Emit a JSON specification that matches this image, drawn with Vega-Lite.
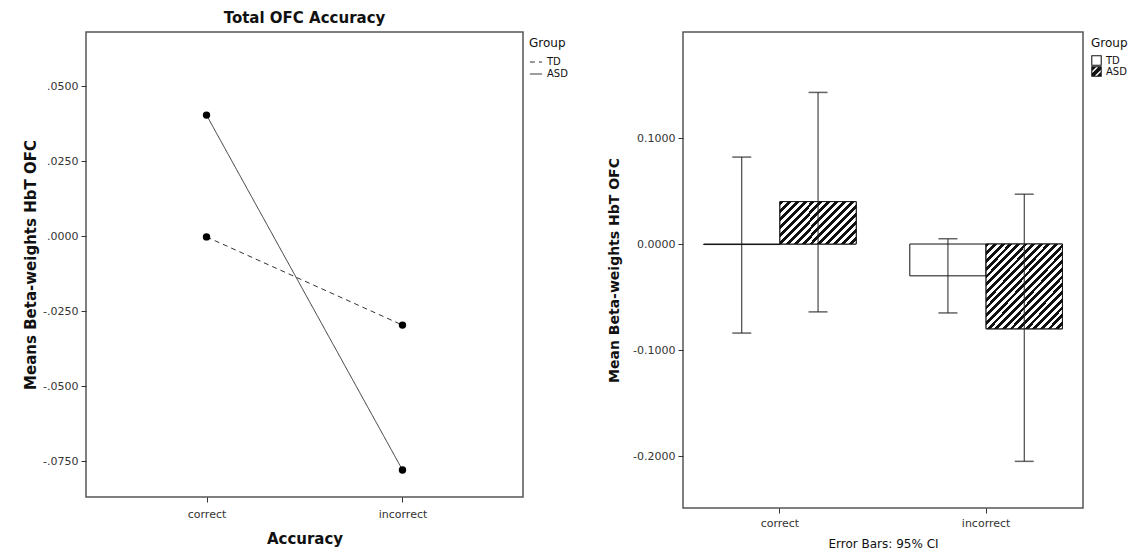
{
  "$schema": "https://vega.github.io/schema/vega-lite/v6.json",
  "autosize": {"type": "pad"},
  "padding": {"left": 22, "top": 10, "right": 0, "bottom": 0},
  "background": "white",
  "spacing": 31,
  "resolve": {"legend": {"strokeDash": "independent", "shape": "independent"}},
  "config": {
    "font": "DejaVu Sans",
    "view": {"stroke": "#555", "strokeWidth": 1.5},
    "axis": {"domain": false, "grid": false, "tickColor": "#333", "tickSize": 5, "labelFontSize": 11, "labelColor": "#333", "titleColor": "#111", "labelPadding": 3},
    "legend": {"titleFontSize": 12, "titleFontWeight": "normal", "titleColor": "#111", "labelFontSize": 10, "labelColor": "#111", "rowPadding": 0, "titlePadding": 5, "padding": 6}
  },
  "hconcat": [
    {
      "title": {"text": "Total OFC Accuracy", "fontSize": 15, "fontWeight": "bold", "offset": 6, "color": "#111"},
      "width": 437,
      "height": 465,
      "data": {"values": [
        {"Accuracy": "correct", "Group": "TD", "mean": -0.0003},
        {"Accuracy": "incorrect", "Group": "TD", "mean": -0.0297},
        {"Accuracy": "correct", "Group": "ASD", "mean": 0.0403},
        {"Accuracy": "incorrect", "Group": "ASD", "mean": -0.078}
      ]},
      "encoding": {
        "x": {"field": "Accuracy", "type": "ordinal", "scale": {"type": "point", "padding": 0.615, "domain": ["correct", "incorrect"]},
              "axis": {"title": "Accuracy", "labelAngle": 0, "titleFontSize": 15, "titleFontWeight": "bold", "labelPadding": 6, "titlePadding": 12}},
        "y": {"field": "mean", "type": "quantitative", "scale": {"domain": [-0.087, 0.068], "nice": false, "zero": false},
              "axis": {"title": "Means Beta-weights HbT OFC", "values": [-0.075, -0.05, -0.025, 0, 0.025, 0.05],
                       "labelExpr": "replace(replace(format(datum.value, '.4f'), '0.', '.'), '\u2212', '-')",
                       "titleFontSize": 15, "titleFontWeight": "bold", "titlePadding": 4}}
      },
      "layer": [
        {"mark": {"type": "line", "color": "#333", "strokeWidth": 1},
         "encoding": {"strokeDash": {"field": "Group", "type": "nominal", "scale": {"domain": ["TD", "ASD"], "range": [[5, 4], [1, 0]]},
                                     "legend": {"title": "Group", "symbolType": "stroke", "symbolSize": 150, "offset": 0, "symbolStrokeColor": "#333", "symbolStrokeWidth": 1}}}},
        {"mark": {"type": "point", "filled": true, "color": "black", "size": 55, "opacity": 1},
         "encoding": {"detail": {"field": "Group", "type": "nominal"}}}
      ]
    },
    {
      "width": 400,
      "height": 476,
      "data": {"values": [
        {"Accuracy": "correct", "Group": "TD", "mean": -0.0005, "lo": -0.084, "hi": 0.082},
        {"Accuracy": "correct", "Group": "ASD", "mean": 0.040, "lo": -0.064, "hi": 0.143},
        {"Accuracy": "incorrect", "Group": "TD", "mean": -0.030, "lo": -0.065, "hi": 0.005},
        {"Accuracy": "incorrect", "Group": "ASD", "mean": -0.080, "lo": -0.205, "hi": 0.047}
      ]},
      "encoding": {
        "x": {"field": "Accuracy", "type": "nominal", "scale": {"domain": ["correct", "incorrect"], "paddingInner": 0.26, "paddingOuter": 0.1},
              "axis": {"title": "Error Bars: 95% CI", "labelAngle": 0, "titleFontSize": 12, "titleFontWeight": "normal", "labelPadding": 4, "titlePadding": 10}},
        "xOffset": {"field": "Group", "type": "nominal", "scale": {"domain": ["TD", "ASD"], "paddingInner": 0, "paddingOuter": 0}},
        "y": {"field": "mean", "type": "quantitative", "scale": {"domain": [-0.249, 0.2], "nice": false, "zero": false},
              "axis": {"title": "Mean Beta-weights HbT OFC", "values": [-0.2, -0.1, 0, 0.1],
                       "labelExpr": "replace(format(datum.value, '.4f'), '\u2212', '-')",
                       "titleFontSize": 14, "titleFontWeight": "bold", "titlePadding": 11}}
      },
      "layer": [
        {"mark": {"type": "bar", "stroke": "#111", "strokeWidth": 1, "fill": "#ffffff"},
         "encoding": {"y2": {"datum": 0}}},
        {"transform": [{"filter": "datum.Group === 'ASD' && datum.Accuracy === 'correct'"}],
         "mark": {"type": "bar", "stroke": "#111", "strokeWidth": 1, "fill": {"gradient": "linear", "x1": 0, "y1": 0, "x2": 1.191, "y2": 0.649, "stops": [
                        {"offset": 0, "color": "#111"}, {"offset": 0.0333, "color": "#111"}, {"offset": 0.0333, "color": "#fff"}, {"offset": 0.0667, "color": "#fff"},
                        {"offset": 0.0667, "color": "#111"}, {"offset": 0.1, "color": "#111"}, {"offset": 0.1, "color": "#fff"}, {"offset": 0.1333, "color": "#fff"},
                        {"offset": 0.1333, "color": "#111"}, {"offset": 0.1667, "color": "#111"}, {"offset": 0.1667, "color": "#fff"}, {"offset": 0.2, "color": "#fff"},
                        {"offset": 0.2, "color": "#111"}, {"offset": 0.2333, "color": "#111"}, {"offset": 0.2333, "color": "#fff"}, {"offset": 0.2667, "color": "#fff"},
                        {"offset": 0.2667, "color": "#111"}, {"offset": 0.3, "color": "#111"}, {"offset": 0.3, "color": "#fff"}, {"offset": 0.3333, "color": "#fff"},
                        {"offset": 0.3333, "color": "#111"}, {"offset": 0.3667, "color": "#111"}, {"offset": 0.3667, "color": "#fff"}, {"offset": 0.4, "color": "#fff"},
                        {"offset": 0.4, "color": "#111"}, {"offset": 0.4333, "color": "#111"}, {"offset": 0.4333, "color": "#fff"}, {"offset": 0.4667, "color": "#fff"},
                        {"offset": 0.4667, "color": "#111"}, {"offset": 0.5, "color": "#111"}, {"offset": 0.5, "color": "#fff"}, {"offset": 0.5333, "color": "#fff"},
                        {"offset": 0.5333, "color": "#111"}, {"offset": 0.5667, "color": "#111"}, {"offset": 0.5667, "color": "#fff"}, {"offset": 0.6, "color": "#fff"},
                        {"offset": 0.6, "color": "#111"}, {"offset": 0.6333, "color": "#111"}, {"offset": 0.6333, "color": "#fff"}, {"offset": 0.6667, "color": "#fff"},
                        {"offset": 0.6667, "color": "#111"}, {"offset": 0.7, "color": "#111"}, {"offset": 0.7, "color": "#fff"}, {"offset": 0.7333, "color": "#fff"},
                        {"offset": 0.7333, "color": "#111"}, {"offset": 0.7667, "color": "#111"}, {"offset": 0.7667, "color": "#fff"}, {"offset": 0.8, "color": "#fff"},
                        {"offset": 0.8, "color": "#111"}, {"offset": 0.8333, "color": "#111"}, {"offset": 0.8333, "color": "#fff"}, {"offset": 0.8667, "color": "#fff"},
                        {"offset": 0.8667, "color": "#111"}, {"offset": 0.9, "color": "#111"}, {"offset": 0.9, "color": "#fff"}, {"offset": 0.9333, "color": "#fff"},
                        {"offset": 0.9333, "color": "#111"}, {"offset": 0.9667, "color": "#111"}, {"offset": 0.9667, "color": "#fff"}, {"offset": 1, "color": "#fff"}
                      ]}},
         "encoding": {"y2": {"datum": 0}}},
        {"transform": [{"filter": "datum.Group === 'ASD' && datum.Accuracy === 'incorrect'"}],
         "mark": {"type": "bar", "stroke": "#111", "strokeWidth": 1, "fill": {"gradient": "linear", "x1": 0, "y1": 0, "x2": 0.955, "y2": 1.042, "stops": [
                        {"offset": 0, "color": "#111"}, {"offset": 0.0238, "color": "#111"}, {"offset": 0.0238, "color": "#fff"}, {"offset": 0.0476, "color": "#fff"},
                        {"offset": 0.0476, "color": "#111"}, {"offset": 0.0714, "color": "#111"}, {"offset": 0.0714, "color": "#fff"}, {"offset": 0.0952, "color": "#fff"},
                        {"offset": 0.0952, "color": "#111"}, {"offset": 0.119, "color": "#111"}, {"offset": 0.119, "color": "#fff"}, {"offset": 0.1429, "color": "#fff"},
                        {"offset": 0.1429, "color": "#111"}, {"offset": 0.1667, "color": "#111"}, {"offset": 0.1667, "color": "#fff"}, {"offset": 0.1905, "color": "#fff"},
                        {"offset": 0.1905, "color": "#111"}, {"offset": 0.2143, "color": "#111"}, {"offset": 0.2143, "color": "#fff"}, {"offset": 0.2381, "color": "#fff"},
                        {"offset": 0.2381, "color": "#111"}, {"offset": 0.2619, "color": "#111"}, {"offset": 0.2619, "color": "#fff"}, {"offset": 0.2857, "color": "#fff"},
                        {"offset": 0.2857, "color": "#111"}, {"offset": 0.3095, "color": "#111"}, {"offset": 0.3095, "color": "#fff"}, {"offset": 0.3333, "color": "#fff"},
                        {"offset": 0.3333, "color": "#111"}, {"offset": 0.3571, "color": "#111"}, {"offset": 0.3571, "color": "#fff"}, {"offset": 0.381, "color": "#fff"},
                        {"offset": 0.381, "color": "#111"}, {"offset": 0.4048, "color": "#111"}, {"offset": 0.4048, "color": "#fff"}, {"offset": 0.4286, "color": "#fff"},
                        {"offset": 0.4286, "color": "#111"}, {"offset": 0.4524, "color": "#111"}, {"offset": 0.4524, "color": "#fff"}, {"offset": 0.4762, "color": "#fff"},
                        {"offset": 0.4762, "color": "#111"}, {"offset": 0.5, "color": "#111"}, {"offset": 0.5, "color": "#fff"}, {"offset": 0.5238, "color": "#fff"},
                        {"offset": 0.5238, "color": "#111"}, {"offset": 0.5476, "color": "#111"}, {"offset": 0.5476, "color": "#fff"}, {"offset": 0.5714, "color": "#fff"},
                        {"offset": 0.5714, "color": "#111"}, {"offset": 0.5952, "color": "#111"}, {"offset": 0.5952, "color": "#fff"}, {"offset": 0.619, "color": "#fff"},
                        {"offset": 0.619, "color": "#111"}, {"offset": 0.6429, "color": "#111"}, {"offset": 0.6429, "color": "#fff"}, {"offset": 0.6667, "color": "#fff"},
                        {"offset": 0.6667, "color": "#111"}, {"offset": 0.6905, "color": "#111"}, {"offset": 0.6905, "color": "#fff"}, {"offset": 0.7143, "color": "#fff"},
                        {"offset": 0.7143, "color": "#111"}, {"offset": 0.7381, "color": "#111"}, {"offset": 0.7381, "color": "#fff"}, {"offset": 0.7619, "color": "#fff"},
                        {"offset": 0.7619, "color": "#111"}, {"offset": 0.7857, "color": "#111"}, {"offset": 0.7857, "color": "#fff"}, {"offset": 0.8095, "color": "#fff"},
                        {"offset": 0.8095, "color": "#111"}, {"offset": 0.8333, "color": "#111"}, {"offset": 0.8333, "color": "#fff"}, {"offset": 0.8571, "color": "#fff"},
                        {"offset": 0.8571, "color": "#111"}, {"offset": 0.881, "color": "#111"}, {"offset": 0.881, "color": "#fff"}, {"offset": 0.9048, "color": "#fff"},
                        {"offset": 0.9048, "color": "#111"}, {"offset": 0.9286, "color": "#111"}, {"offset": 0.9286, "color": "#fff"}, {"offset": 0.9524, "color": "#fff"},
                        {"offset": 0.9524, "color": "#111"}, {"offset": 0.9762, "color": "#111"}, {"offset": 0.9762, "color": "#fff"}, {"offset": 1, "color": "#fff"}
                      ]}},
         "encoding": {"y2": {"datum": 0}}},
        {"mark": {"type": "rule", "color": "#222", "strokeWidth": 1},
         "encoding": {"y": {"field": "lo", "type": "quantitative", "axis": {"title": "Mean Beta-weights HbT OFC"}}, "y2": {"field": "hi"}}},
        {"mark": {"type": "tick", "color": "#222", "thickness": 1.5, "size": 19},
         "encoding": {"y": {"field": "hi", "type": "quantitative", "axis": {"title": "Mean Beta-weights HbT OFC"}}}},
        {"mark": {"type": "tick", "color": "#222", "thickness": 1.5, "size": 19},
         "encoding": {"y": {"field": "lo", "type": "quantitative", "axis": {"title": "Mean Beta-weights HbT OFC"}}}},
        {"mark": {"type": "point", "filled": true, "color": "#111", "opacity": 0, "size": 20},
         "encoding": {"shape": {"field": "Group", "type": "nominal",
                                "scale": {"domain": ["TD", "ASD"], "range": [
                                  "M-1,-1H1V1H-1Z M-0.8,-0.8V0.8H0.8V-0.8Z",
                                  "M-1,-1H1V1H-1Z M-0.8,-0.8V0.8H0.8V-0.8Z M-1,-1L0.1,-1L-1,0.1Z M0.5,-1L1,-1L1,-0.5L-0.5,1L-1,1L-1,0.5Z M1,-0.1L1,1L-0.1,1Z"]},
                                "legend": {"title": "Group", "symbolSize": 110, "symbolOpacity": 1, "symbolFillColor": "#111", "symbolStrokeWidth": 0, "symbolStrokeColor": "transparent", "offset": 2}}}}
      ]
    }
  ]
}
